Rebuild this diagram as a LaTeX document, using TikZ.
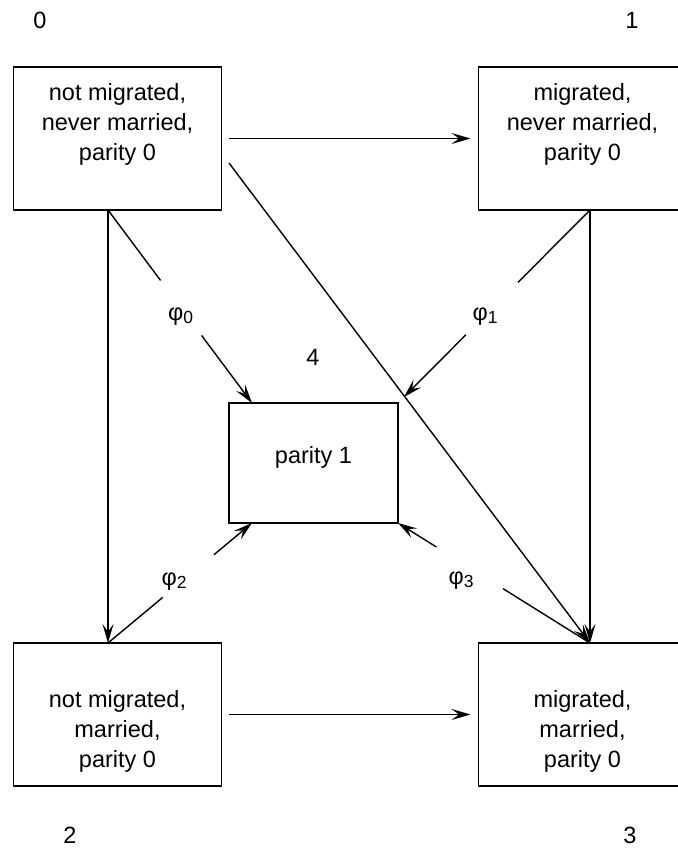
\documentclass[tikz,border=0pt]{standalone}
\usepackage{fontspec}
\setmainfont{Liberation Sans}
\usetikzlibrary{arrows.meta,calc}
\newcommand{\philab}[1]{{\fontsize{23.5}{28}\selectfont\char"03C6}\raisebox{-3pt}{\fontsize{17.5}{20}\selectfont #1}}
\begin{document}
\begin{tikzpicture}[x=1pt,y=-1pt,
  state/.style={draw,line width=1.7pt,inner sep=0pt,outer sep=0pt},
  bigstate/.style={state,minimum width=208pt,minimum height=143pt},
  txt/.style={align=center,inner sep=0pt,font=\fontsize{23.5}{30}\selectfont},
  lab/.style={inner sep=0pt,font=\fontsize{23.5}{28}\selectfont},
  conn/.style={line width=1.4pt},
  arr/.style={conn,-{Stealth[length=19pt,width=11pt,inset=7.5pt]}}]
\useasboundingbox (0,0) rectangle (677,848);
% boxes
\node[bigstate] (n0) at (117.5,138.5) {};
\node[bigstate] (n1) at (582.5,138.5) {};
\node[bigstate] (n2) at (117.5,714.5) {};
\node[bigstate] (n3) at (582.5,714.5) {};
\node[state,minimum width=169pt,minimum height=120pt] (n4) at (313.5,463) {};
% texts
\node[txt] (t0) at (117.5,124) {not migrated,\\never married,\\parity 0};
\node[txt] (t1) at (582.5,124) {migrated,\\never married,\\parity 0};
\node[txt] (t2) at (117.5,731) {not migrated,\\married,\\parity 0};
\node[txt] (t3) at (582.5,731) {migrated,\\married,\\parity 0};
\node[txt] (t4) at (313.5,457) {parity 1};
% numbers
\node[lab] (l0) at (40,20) {0};
\node[lab] (l1) at (632,20) {1};
\node[lab] (l4) at (313,357) {4};
\node[lab] (l2) at (70,835) {2};
\node[lab] (l3) at (630,835) {3};
% anchor points
\coordinate (a0s) at ([xshift=-9.5pt]n0.south);
\coordinate (a2n) at ([xshift=-9.5pt]n2.north);
\coordinate (a1s) at ([xshift=7.5pt]n1.south);
\coordinate (a3n) at ([xshift=7.5pt]n3.north);
\coordinate (a4nw) at ([xshift=23pt]n4.north west);
\coordinate (a4ne) at ([shift={(6,-6)}]n4.north east);
\coordinate (a4sw) at ([xshift=23pt]n4.south west);
\coordinate (a4se) at (n4.south east);
% straight transitions
\draw[arr] ([xshift=7pt]n0.east) -- ([xshift=-8pt]n1.west);
\draw[arr] ([xshift=7pt]n2.east) -- ([xshift=-8pt]n3.west);
\draw[arr] ([shift={(7.5,24.5)}]n0.east) -- (a3n);
\draw[arr] (a1s) -- (a3n);
\draw[arr] (a0s) -- (a2n);
% transitions to parity 1
\draw[conn] (a0s) -- ($(a0s)!0.365!(a4nw)$);
\draw[arr] ($(a0s)!0.65!(a4nw)$) -- (a4nw);
\draw[conn] (a1s) -- ($(a1s)!0.387!(a4ne)$);
\draw[arr] ($(a1s)!0.667!(a4ne)$) -- (a4ne);
\draw[conn] (a2n) -- ($(a2n)!0.38!(a4sw)$);
\draw[arr] ($(a2n)!0.736!(a4sw)$) -- (a4sw);
\draw[conn] (a3n) -- ($(a3n)!0.453!(a4se)$);
\draw[arr] ($(a3n)!0.80!(a4se)$) -- (a4se);
% rate labels
\node[lab,anchor=base] (p0) at (180.5,320) {\philab{0}};
\node[lab,anchor=base] (p1) at (485,320) {\philab{1}};
\node[lab,anchor=base] (p2) at (174,585) {\philab{2}};
\node[lab,anchor=base] (p3) at (461,584) {\philab{3}};
\end{tikzpicture}
\end{document}
